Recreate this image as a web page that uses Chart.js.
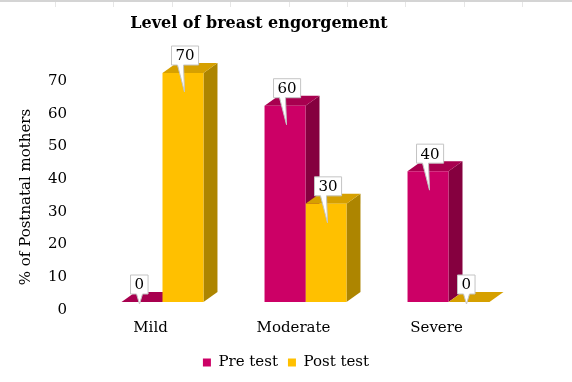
<!DOCTYPE html>
<html>
<head>
<meta charset="utf-8">
<script src="https://cdn.jsdelivr.net/npm/chart.js@4.4.0/dist/chart.umd.min.js"></script>
<style>
  body { margin: 0; background: #fff; }
</style>
</head>
<body>
<canvas id="myChart" width="572" height="382"></canvas>
<script>
// Data
const categories = ['Mild', 'Moderate', 'Severe'];
const preTest = [0, 60, 40];
const postTest = [70, 30, 0];
const yTicks = [0, 10, 20, 30, 40, 50, 60, 70];
const seriesNames = ['Pre test', 'Post test'];
const chartTitle = 'Level of breast engorgement';
const yTitle = '% of Postnatal mothers';

const FONT = '"DejaVu Serif", serif';
const DX = 14, DY = 10; // depth of the fake 3d
const shades = [
  { front: '#CC0066', side: '#85003F', top: '#A8004F' },
  { front: '#FFC000', side: '#AD8500', top: '#D6A000' }
];

function poly(ctx, pts, color) {
  ctx.beginPath();
  ctx.moveTo(pts[0][0], pts[0][1]);
  for (let k = 1; k < pts.length; k++) ctx.lineTo(pts[k][0], pts[k][1]);
  ctx.closePath();
  ctx.fillStyle = color;
  ctx.fill();
}

const bars3d = {
  id: 'bars3d',
  beforeDraw(chart) {
    const ctx = chart.ctx;
    ctx.save();
    ctx.fillStyle = '#fff';
    ctx.fillRect(0, 0, chart.width, chart.height);
    // sheet grid line showing at the top edge
    ctx.fillStyle = '#d4d4d4';
    ctx.fillRect(0, 0, chart.width, 2);
    ctx.fillStyle = '#e6e6e6';
    for (let x = 55; x < chart.width; x += 58.4) ctx.fillRect(Math.round(x), 2, 1, 5);
    ctx.restore();
  },
  beforeDatasetsDraw(chart) {
    const ctx = chart.ctx;
    ctx.save();
    for (let i = 0; i < categories.length; i++) {
      chart.data.datasets.forEach(function (ds, d) {
        const bar = chart.getDatasetMeta(d).data[i];
        const l = bar.x - bar.width / 2, r = bar.x + bar.width / 2;
        const top = bar.y, base = bar.base;
        if (base - top > 0.5) {
          poly(ctx, [[r, top], [r + DX, top - DY], [r + DX, base - DY], [r, base]], shades[d].side);
        }
        poly(ctx, [[l, top], [l + DX, top - DY], [r + DX, top - DY], [r, top]], shades[d].top);
      });
    }
    ctx.restore();
  },
  afterDatasetsDraw(chart) {
    const ctx = chart.ctx;
    ctx.save();
    ctx.font = '15px ' + FONT;
    ctx.textAlign = 'center';
    ctx.textBaseline = 'middle';
    chart.data.datasets.forEach(function (ds, d) {
      chart.getDatasetMeta(d).data.forEach(function (bar, i) {
        const txt = String(ds.data[i]);
        const w = ctx.measureText(txt).width + 8, h = 19;
        const left = bar.x - bar.width / 2 + 9;
        const bottom = bar.y - 8;
        const high = bar.base - bar.y > 1;
        const tip = high ? [left + 13, bar.y + 19] : [left + 9, bar.y + 2];
        ctx.beginPath();
        ctx.moveTo(left, bottom - h);
        ctx.lineTo(left + w, bottom - h);
        ctx.lineTo(left + w, bottom);
        ctx.lineTo(left + 12, bottom);
        ctx.lineTo(tip[0], tip[1]);
        ctx.lineTo(left + 6, bottom);
        ctx.lineTo(left, bottom);
        ctx.closePath();
        ctx.fillStyle = '#fff';
        ctx.fill();
        ctx.strokeStyle = '#c4c4c4';
        ctx.lineWidth = 1;
        ctx.stroke();
        ctx.fillStyle = '#000';
        ctx.fillText(txt, left + w / 2, bottom - h / 2 + 1);
      });
    });
    ctx.restore();
  },
  afterDraw(chart) {
    const ctx = chart.ctx;
    ctx.save();
    ctx.fillStyle = '#000';
    ctx.textAlign = 'center';
    ctx.font = 'bold 16px ' + FONT;
    ctx.textBaseline = 'alphabetic';
    ctx.fillText(chartTitle, 259, 28);
    // y axis title
    ctx.font = '15px ' + FONT;
    ctx.textBaseline = 'middle';
    ctx.translate(26, 197);
    ctx.rotate(-Math.PI / 2);
    ctx.fillText(yTitle, 0, 0);
    ctx.restore();
  }
};

const ctx = document.getElementById('myChart');

new Chart(ctx, {
  type: 'bar',
  data: {
    labels: categories,
    datasets: [
      { label: seriesNames[0], data: preTest, backgroundColor: shades[0].front },
      { label: seriesNames[1], data: postTest, backgroundColor: shades[1].front }
    ]
  },
  plugins: [bars3d],
  options: {
    responsive: false,
    animation: false,
    devicePixelRatio: 1,
    borderWidth: 0,
    datasets: {
      bar: { barPercentage: 1, categoryPercentage: 0.573 }
    },
    layout: { padding: { top: 73, right: 0, left: 0, bottom: 2 } },
    scales: {
      x: {
        grid: { display: false, drawTicks: false },
        border: { display: false },
        ticks: { color: '#000', font: { family: FONT, size: 15 }, padding: 17, labelOffset: -12 },
        afterFit: function (s) { s.height = 43; }
      },
      y: {
        min: 0,
        max: 70,
        grid: { display: false, drawTicks: false },
        border: { display: false },
        afterBuildTicks: function (axis) { axis.ticks = yTicks.map(v => ({ value: v })); },
        ticks: { color: '#000', font: { family: FONT, size: 15 }, padding: 24, labelOffset: 8 },
        afterFit: function (s) { s.width = 91; }
      },
      // empty right margin so the legend stays centred on the whole canvas
      yRight: {
        position: 'right',
        display: true,
        grid: { display: false, drawTicks: false },
        border: { display: false },
        ticks: { display: false },
        afterFit: function (s) { s.width = 52; }
      }
    },
    plugins: {
      title: { display: false },
      tooltip: { enabled: false },
      legend: {
        position: 'bottom',
        labels: {
          color: '#000',
          font: { family: FONT, size: 15 },
          boxWidth: 8,
          boxHeight: 8,
          padding: 10
        }
      }
    }
  }
});
</script>
</body>
</html>
